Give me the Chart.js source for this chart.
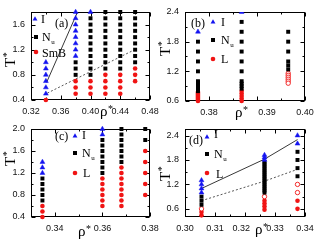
<!DOCTYPE html>
<html><head><meta charset="utf-8">
<script src="https://cdn.jsdelivr.net/npm/chart.js@4.4.1/dist/chart.umd.min.js"></script>
<style>
html,body{margin:0;padding:0;background:#fff;overflow:hidden;width:329px;height:242px}
#wrap{position:relative;width:329px;height:242px}
canvas{position:absolute;left:0;top:0}
</style></head><body><div id="wrap">
<canvas id="ca" width="329" height="242"></canvas>
<canvas id="cb" width="329" height="242"></canvas>
<canvas id="cc" width="329" height="242"></canvas>
<canvas id="cd" width="329" height="242"></canvas>
</div>
<script>
// ---------- Panel (a) ----------
const aRho = [0.34, 0.38, 0.40, 0.42, 0.44, 0.46];
const aIso = [[0.5,0.6,0.7,0.8,0.9,1.0],[1.1,1.2,1.3,1.4,1.5,1.6,1.7,1.8],[1.8],[],[],[]];
const aNem = [[],[0.8,0.9,1.0],[0.8,0.9,1.0,1.1,1.2,1.3,1.4,1.5,1.6,1.7],
  [0.9,1.0,1.1,1.2,1.3,1.4,1.5,1.6,1.7,1.8],[0.9,1.0,1.1,1.2,1.3,1.4,1.5,1.6,1.7,1.8],
  [1.0,1.1,1.2,1.3,1.4,1.5,1.6,1.7,1.8]];
const aSmB = [[0.4],[0.5,0.6,0.7],[0.5,0.6,0.7],[0.5,0.6,0.7,0.8],[0.5,0.6,0.7,0.8],[0.7,0.8,0.9]];
const aSolidRho = [0.341, 0.3825], aSolidT = [0.68, 1.8];
const aDashRho = [0.342, 0.461], aDashT = [0.51, 1.21];
const aXTicks = [0.32, 0.36, 0.40, 0.44, 0.48], aYTicks = [0.4, 0.8, 1.2, 1.6];

// ---------- Panel (b) ----------
const bRho = [0.3777, 0.3868, 0.3965];
const bIso = [[2.0],[2.4],[]];
const bNem = [[1.8,1.6,1.4,1.2,1.0,0.98,0.96,0.94,0.92,0.90,0.88,0.86,0.84,0.82,0.80],
  [2.2,2.0,1.8,1.6,1.4,1.2,1.0,0.95,0.9,0.85],
  [2.0,1.8,1.6,1.4,1.32,1.24]];
const bLam = [[0.78,0.76,0.74,0.72,0.70,0.68,0.66,0.64,0.62,0.60],[0.8,0.75,0.7,0.65,0.6],[]];
const bLamOpen = [[],[],[1.16,1.12,1.08,1.04,1.0,0.96]];
const bXTicks = [0.38, 0.39, 0.40], bYTicks = [0.6, 1.2, 1.8, 2.4];

// ---------- Panel (c) ----------
const cRho = [0.3348, 0.36, 0.368, 0.378];
const cIso = [[1.2,1.3,1.4],[1.9,2.0],[],[]];
const cNem = [[0.7,0.8,0.9,1.0,1.1],[1.2,1.3,1.4,1.5,1.6,1.7,1.8],[1.4,1.5,1.6,1.7,1.8,1.9,2.0],[1.8,2.0]];
const cLam = [[0.4,0.5,0.6],[0.6,0.7,0.8,0.9,1.0,1.1],[0.6,0.7,0.8,0.9,1.0,1.1,1.2,1.3],[0.8,1.0,1.2,1.4,1.6]];
const cXTicks = [0.34, 0.36, 0.38], cYTicks = [0.4, 0.8, 1.2, 1.6, 2.0];

// ---------- Panel (d) ----------
const dRho = [0.3055, 0.3265, 0.3375];
const dIso = [[1.0,1.1,1.2,1.3],[1.8,1.86,1.92],[2.2,2.4]];
const dNem = [[0.7,0.8,0.9],[1.0,1.05,1.1,1.15,1.2,1.25,1.3,1.35,1.4,1.45,1.5,1.55,1.6,1.65,1.7,1.75],[1.4,1.6,1.8,2.0]];
const dLamOpen = [[0.6],[0.9],[1.0,1.2]];
const dLam = [[0.44,0.52],[0.58,0.66,0.73,0.8],[0.6,0.8]];
const dSolidRho = [0.3055, 0.3265, 0.3375], dSolidT = [1.1, 1.82, 2.3];
const dDashRho = [0.3055, 0.3265, 0.3375], dDashT = [0.8, 1.28, 1.57];
const dXTicks = [0.30, 0.31, 0.32, 0.33, 0.34], dYTicks = [0.6, 1.2, 1.8, 2.4];

// ---------- helpers ----------
const BLUE = '#1414f0', RED = '#f01414', BLACK = '#000';
function pts(rho, cols){ const o=[]; cols.forEach((c,i)=>c.forEach(t=>o.push({x:rho[i], y:t}))); return o; }
function line(xs, ys){ return xs.map((x,i)=>({x, y:ys[i]})); }
function triSet(data, clip){ const d={label:'I', data, pointStyle:'triangle', pointRadius:2.8, pointBackgroundColor:BLUE, pointBorderColor:BLUE, pointBorderWidth:0.5, showLine:false, order:1}; if(clip!==true) d.clip=false; return d; }
function sqSet(data){ return {label:'Nu', data, pointStyle:'rect', pointRadius:2.8, pointBackgroundColor:BLACK, pointBorderColor:BLACK, pointBorderWidth:0, showLine:false, clip:false, order:2}; }
function cirSet(data){ return {label:'L', data, pointStyle:'circle', pointRadius:2.3, pointBackgroundColor:RED, pointBorderColor:RED, pointBorderWidth:0, showLine:false, clip:false, order:3}; }
function openSet(data){ return {label:'Lo', data, pointStyle:'circle', pointRadius:2.2, pointBackgroundColor:'#fff', pointBorderColor:RED, pointBorderWidth:0.9, showLine:false, clip:false, order:3}; }
function solidSet(data){ return {label:'s', data, showLine:true, borderColor:'#383838', borderWidth:1, pointRadius:0, fill:false, order:5}; }
function dashSet(data){ return {label:'d', data, showLine:true, borderColor:'#555', borderWidth:1, borderDash:[2,2], pointRadius:0, fill:false, order:5}; }

function minors(major, step, min, max){
  const out=[]; const eps=step*1e-3;
  for(let k=-60;k<=60;k++){ if(k%2===0) continue; const v=major[0]+k*step; if(v>min+eps && v<max-eps) out.push(v); }
  return out;
}

function drawMarker(ctx, shape, x, y){
  ctx.beginPath();
  if(shape==='tri'){ ctx.fillStyle=BLUE; const r=2.8; ctx.moveTo(x, y-r); ctx.lineTo(x+r*0.866, y+r*0.5); ctx.lineTo(x-r*0.866, y+r*0.5); ctx.closePath(); ctx.fill(); }
  else if(shape==='sq'){ ctx.fillStyle=BLACK; ctx.fillRect(x-2, y-2, 4, 4); }
  else { ctx.fillStyle=RED; ctx.arc(x, y, 2.3, 0, Math.PI*2); ctx.fill(); }
}

function deco(p){
  return {
    id:'deco',
    beforeDatasetsDraw(chart){
      const {ctx, chartArea:a, scales:{x:xs, y:ys}} = chart;
      ctx.save(); ctx.strokeStyle='#000'; ctx.lineWidth=1;
      const L=Math.round(a.left)+0.5, R=Math.round(a.right)-0.5, T=Math.round(a.top)+0.5, B=Math.round(a.bottom)-0.5;
      ctx.strokeRect(L, T, R-L, B-T);
      ctx.beginPath();
      const xt=(vals,len)=>vals.forEach(v=>{ const px=Math.round(xs.getPixelForValue(v))+0.5; ctx.moveTo(px,B); ctx.lineTo(px,B-len); ctx.moveTo(px,T); ctx.lineTo(px,T+len); });
      const yt=(vals,len)=>vals.forEach(v=>{ const py=Math.round(ys.getPixelForValue(v))+0.5; ctx.moveTo(L,py); ctx.lineTo(L+len,py); ctx.moveTo(R,py); ctx.lineTo(R-len,py); });
      xt(p.xTicks,4); yt(p.yTicks,4);
      xt(minors(p.xTicks,p.xMinor,xs.min,xs.max),2);
      yt(minors(p.yTicks,p.yMinor,ys.min,ys.max),2);
      ctx.stroke(); ctx.restore();
    },
    afterDraw(chart){
      const ctx=chart.ctx; ctx.save();
      ctx.fillStyle='#000'; ctx.textBaseline='alphabetic'; ctx.textAlign='left';
      // legend
      ctx.font='12px "Liberation Serif"';
      ctx.fillText(p.tag[0], p.tag[1], p.tag[2]);
      p.legend.forEach(it=>{
        drawMarker(ctx, it.shape, it.mx, it.my);
        ctx.fillStyle='#000';
        ctx.font='12px "Liberation Serif"';
        ctx.fillText(it.text, it.tx, it.ty);
        if(it.sub){ const w=ctx.measureText(it.text).width; ctx.font='7px "Liberation Serif"'; ctx.fillText(it.sub, it.tx+w+0.5, it.ty+2.5); }
      });
      // x title rho*
      ctx.font='15px "Liberation Serif"';
      ctx.fillText('\u03C1', p.xt[0], p.xt[1]);
      const rw=ctx.measureText('\u03C1').width;
      ctx.font='10px "Liberation Serif"';
      ctx.fillText('*', p.xt[0]+rw+0.5, p.xt[1]-4);
      // y title T*
      ctx.translate(p.yt[0], p.yt[1]); ctx.rotate(-Math.PI/2);
      ctx.font='15px "Liberation Serif"';
      ctx.fillText('T', 0, 0);
      const tw=ctx.measureText('T').width;
      ctx.font='10px "Liberation Serif"';
      ctx.fillText('*', tw+0.5, -5);
      ctx.restore();
    }
  };
}

function makePanel(id, p, datasets){
  const W=329, H=242, yW=30, xH=20;
  return new Chart(document.getElementById(id), {
    type:'scatter',
    data:{datasets},
    options:{
      responsive:false, animation:false, devicePixelRatio:1,
      layout:{padding:{left:p.area[0]-yW, right:W-p.area[1], top:p.area[2], bottom:H-p.area[3]-xH}},
      plugins:{legend:{display:false}, tooltip:{enabled:false}},
      elements:{line:{tension:0}},
      scales:{
        x:{type:'linear', min:p.xr[0], max:p.xr[1],
          afterBuildTicks:s=>{ s.ticks=p.xTicks.map(v=>({value:v})); },
          afterFit:s=>{ s.height=xH; },
          grid:{display:false, drawTicks:false}, border:{display:false},
          ticks:{autoSkip:false, maxRotation:0, padding:6, color:'#111', font:{family:'Liberation Sans', size:9}, callback:v=>p.xFmt(v)}},
        y:{type:'linear', min:p.yr[0], max:p.yr[1],
          afterBuildTicks:s=>{ s.ticks=p.yTicks.map(v=>({value:v})); },
          afterFit:s=>{ s.width=yW; },
          grid:{display:false, drawTicks:false}, border:{display:false},
          ticks:{autoSkip:false, padding:6, color:'#111', font:{family:'Liberation Sans', size:9}, callback:v=>v.toFixed(1)}}
      }
    },
    plugins:[deco(p)]
  });
}

makePanel('ca', {
  area:[31,150,12,100], xr:[0.32,0.48], yr:[0.4,1.8], xTicks:aXTicks, yTicks:aYTicks, xMinor:0.02, yMinor:0.2,
  xFmt:v=>v.toFixed(2), tag:['(a)',55,27], xt:[100,116], yt:[15,67],
  legend:[{shape:'tri',mx:35,my:19,text:'I',tx:41,ty:23},{shape:'sq',mx:36,my:37,text:'N',sub:'u',tx:42,ty:41},{shape:'cir',mx:36,my:52,text:'SmB',tx:42,ty:57}]
}, [triSet(pts(aRho,aIso)), sqSet(pts(aRho,aNem)), cirSet(pts(aRho,aSmB)),
    solidSet(line(aSolidRho,aSolidT)), dashSet(line(aDashRho,aDashT))]);

makePanel('cb', {
  area:[185,305,12,101], xr:[0.375,0.40], yr:[0.6,2.4], xTicks:bXTicks, yTicks:bYTicks, xMinor:0.005, yMinor:0.3,
  xFmt:v=>(Math.abs(v-0.39)<1e-6 ? '        0.39' : v.toFixed(2)), tag:['(b)',191,27], xt:[235,117], yt:[170,56],
  legend:[{shape:'tri',mx:213,my:22,text:'I',tx:221,ty:26},{shape:'sq',mx:213,my:40,text:'N',sub:'u',tx:221,ty:44},{shape:'cir',mx:213,my:59,text:'L',tx:221,ty:63}]
}, [triSet(pts(bRho,bIso), true), sqSet(pts(bRho,bNem)), cirSet(pts(bRho,bLam)), openSet(pts(bRho,bLamOpen))]);

makePanel('cc', {
  area:[31,150,129,217], xr:[0.33,0.38], yr:[0.4,2.0], xTicks:cXTicks, yTicks:cYTicks, xMinor:0.01, yMinor:0.2,
  xFmt:v=>v.toFixed(2), tag:['(c)',55,140], xt:[78,236], yt:[15,166],
  legend:[{shape:'tri',mx:75,my:136,text:'I',tx:82,ty:139},{shape:'sq',mx:75,my:153,text:'N',sub:'u',tx:82,ty:157},{shape:'cir',mx:75,my:173,text:'L',tx:83,ty:177}]
}, [triSet(pts(cRho,cIso)), sqSet(pts(cRho,cNem)), cirSet(pts(cRho,cLam))]);

makePanel('cd', {
  area:[185,305,129,217], xr:[0.30,0.34], yr:[0.4,2.56], xTicks:dXTicks, yTicks:dYTicks, xMinor:0.005, yMinor:0.3,
  xFmt:v=>(Math.abs(v-0.32)<1e-6 ? '0.32   ' : v.toFixed(2)), tag:['(d)',189,144], xt:[255,234], yt:[170,181],
  legend:[{shape:'tri',mx:207,my:137,text:'I',tx:214,ty:138},{shape:'sq',mx:207,my:154,text:'N',sub:'u',tx:214,ty:158},{shape:'cir',mx:207,my:173,text:'L',tx:216,ty:178}]
}, [triSet(pts(dRho,dIso)), sqSet(pts(dRho,dNem)), openSet(pts(dRho,dLamOpen)), cirSet(pts(dRho,dLam)),
    solidSet(line(dSolidRho,dSolidT)), dashSet(line(dDashRho,dDashT))]);
</script>
</body></html>
